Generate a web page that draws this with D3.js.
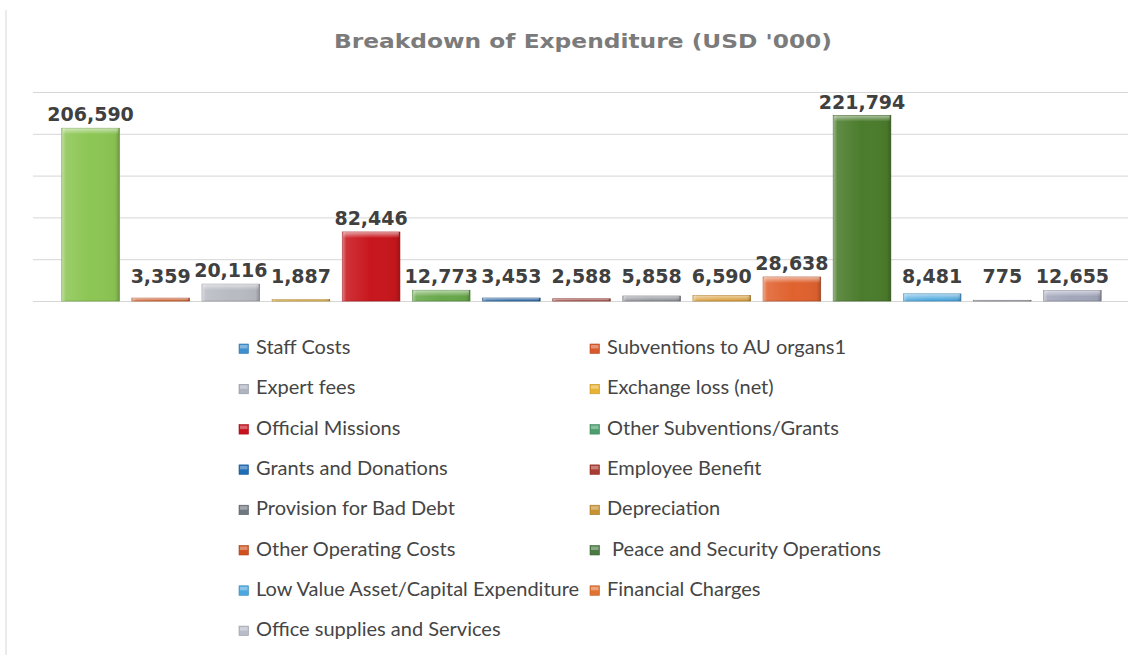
<!DOCTYPE html>
<html>
<head>
<meta charset="utf-8">
<script src="https://cdn.jsdelivr.net/npm/d3@7"></script>
<style>
  html, body { margin: 0; padding: 0; background: #ffffff; }
  svg { display: block; }
  .legend text { white-space: pre; }
</style>
</head>
<body>
<svg id="chart" width="1141" height="655"></svg>
<script>
// Expenditure categories, in bar order
const categories = [
  "Staff Costs",
  "Subventions to AU organs1",
  "Expert fees",
  "Exchange loss (net)",
  "Official Missions",
  "Other Subventions/Grants",
  "Grants and Donations",
  "Employee Benefit",
  "Provision for Bad Debt",
  "Depreciation",
  "Other Operating Costs",
  " Peace and Security Operations",
  "Low Value Asset/Capital Expenditure",
  "Financial Charges",
  "Office supplies and Services"
];

// Amounts in USD '000
const values = [206590, 3359, 20116, 1887, 82446, 12773, 3453, 2588, 5858, 6590, 28638, 221794, 8481, 775, 12655];

// Fill of each bar
const barColors = [
  "#8cc654", "#d2602e", "#b9bbc3", "#d9a93a", "#c8161d",
  "#68a84a", "#2462a2", "#a64a42", "#8b8e96", "#d89b35",
  "#e0622f", "#4b7c2c", "#4fa9df", "#8f9098", "#a2a6ba"
];

// Swatch colour of each legend entry
const legendColors = [
  "#3f8fd0", "#d85a2c", "#aeb3c0", "#e8b233", "#c8121e",
  "#4c9e6e", "#1f6db6", "#a83b32", "#6f7780", "#c89232",
  "#d2521f", "#4b7a42", "#4aa8e0", "#e07232", "#b8bcc8"
];

// Gridline values
const yTicks = [0, 50000, 100000, 150000, 200000, 250000];

const svg = d3.select("#chart");
const W = 1141, H = 655;

// faint page edge
svg.append("line")
  .attr("x1", 6).attr("x2", 6).attr("y1", 10).attr("y2", H)
  .attr("stroke", "#e4e4e4").attr("stroke-width", 1.5);

// Title
svg.append("text")
  .attr("x", 583).attr("y", 48)
  .attr("text-anchor", "middle")
  .attr("font-family", "'DejaVu Sans', sans-serif")
  .attr("font-weight", "bold")
  .attr("font-size", 20)
  .attr("textLength", 498)
  .attr("lengthAdjust", "spacingAndGlyphs")
  .attr("fill", "#7b7b7b")
  .text("Breakdown of Expenditure (USD '000)");

const x = d3.scaleBand()
  .domain(categories)
  .range([55.5, 1107.5])
  .paddingInner(0.18)
  .paddingOuter(0.09);

const y = d3.scaleLinear()
  .domain([0, 250000])
  .range([301, 92]);

// Gridlines
const grid = svg.append("g")
  .attr("transform", "translate(1128,0)")
  .call(d3.axisLeft(y).tickValues(yTicks).tickSize(1095).tickFormat(""));
grid.select(".domain").remove();
grid.selectAll(".tick line")
  .attr("stroke", "#d6d6d6")
  .attr("stroke-width", 1);

// Bevel gradients shared by all bars
const defs = svg.append("defs");
const sideGrad = defs.append("linearGradient").attr("id", "bevelSide")
  .attr("x1", 0).attr("x2", 1).attr("y1", 0).attr("y2", 0);
[[0, "#ffffff", 0.45], [0.07, "#ffffff", 0.12], [0.5, "#ffffff", 0], [0.93, "#000000", 0.04], [1, "#000000", 0.22]]
  .forEach(([o, c, a]) => sideGrad.append("stop").attr("offset", o).attr("stop-color", c).attr("stop-opacity", a));
const topGrad = defs.append("linearGradient").attr("id", "bevelTop")
  .attr("x1", 0).attr("x2", 0).attr("y1", 0).attr("y2", 1);
[[0, "#ffffff", 0.55], [1, "#ffffff", 0]]
  .forEach(([o, c, a]) => topGrad.append("stop").attr("offset", o).attr("stop-color", c).attr("stop-opacity", a));

const bars = svg.append("g").selectAll("g")
  .data(categories)
  .join("g");

bars.append("rect")
  .attr("x", d => x(d))
  .attr("y", (d, i) => y(values[i]))
  .attr("width", x.bandwidth())
  .attr("height", (d, i) => y(0) - y(values[i]))
  .attr("fill", (d, i) => barColors[i])
  .attr("stroke", (d, i) => d3.color(barColors[i]).darker(0.6))
  .attr("stroke-width", 0.8);

bars.append("rect")
  .attr("x", d => x(d))
  .attr("y", (d, i) => y(values[i]))
  .attr("width", x.bandwidth())
  .attr("height", (d, i) => y(0) - y(values[i]))
  .attr("fill", "url(#bevelSide)");

bars.append("rect")
  .attr("x", d => x(d) + 1)
  .attr("y", (d, i) => y(values[i]))
  .attr("width", x.bandwidth() - 2)
  .attr("height", (d, i) => Math.min(6, y(0) - y(values[i])))
  .attr("fill", "url(#bevelTop)");

// Value labels
svg.append("g").selectAll("text")
  .data(categories)
  .join("text")
  .attr("x", d => x(d) + x.bandwidth() / 2)
  .attr("y", (d, i) => Math.min(y(values[i]), y(0) - 11) - 7)
  .attr("text-anchor", "middle")
  .attr("font-family", "'DejaVu Sans', sans-serif")
  .attr("font-weight", "bold")
  .attr("font-size", 19)
  .attr("fill", "#404040")
  .text((d, i) => d3.format(",")(values[i]));

// Legend: two columns, filled row by row
const legend = svg.append("g").attr("class", "legend");
const item = legend.selectAll("g")
  .data(categories)
  .join("g")
  .attr("transform", (d, i) => `translate(${i % 2 === 0 ? 239 : 590},${354 + Math.floor(i / 2) * 40.3})`);

item.append("rect")
  .attr("x", 0).attr("y", -10)
  .attr("width", 9.5).attr("height", 9.5)
  .attr("fill", (d, i) => legendColors[i])
  .attr("stroke", (d, i) => d3.color(legendColors[i]).darker(0.5))
  .attr("stroke-width", 0.6);
item.append("rect")
  .attr("x", 1).attr("y", -9)
  .attr("width", 7.5).attr("height", 3.5)
  .attr("fill", "#ffffff").attr("opacity", 0.35);

item.append("text")
  .attr("x", 17).attr("y", 0)
  .attr("font-family", "Lato, 'Open Sans', sans-serif")
  .attr("font-size", 20)
  .attr("fill", "#454545")
  .text(d => d);
</script>
</body>
</html>
